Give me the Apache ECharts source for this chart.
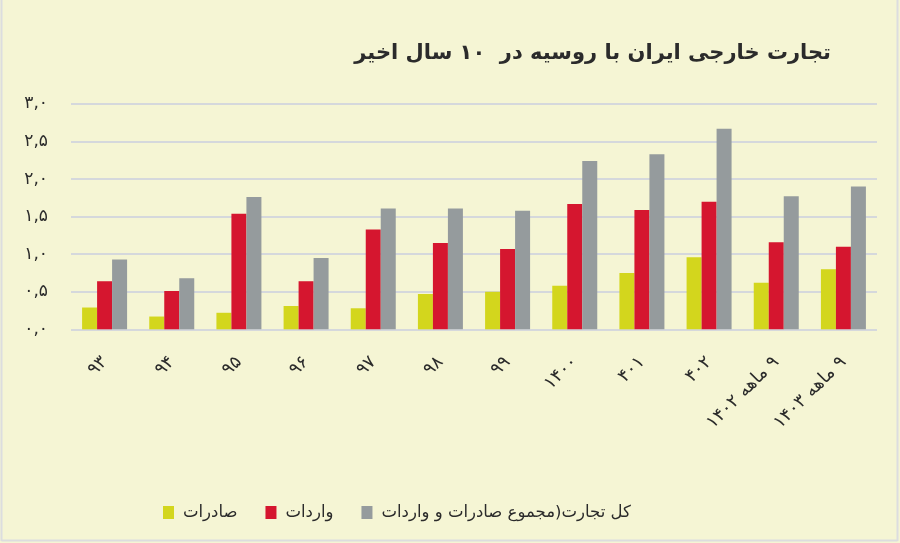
<!DOCTYPE html>
<html>
<head>
<meta charset="utf-8">
<script src="https://cdn.jsdelivr.net/npm/echarts@6/dist/echarts.min.js"></script>
<style>
html,body{margin:0;padding:0;background:#f5f5d4;}
#chart{width:900px;height:543px;}
</style>
</head>
<body>
<div id="chart"></div>
<script>
const titleText = 'تجارت خارجی ایران با روسیه در  ۱۰ سال اخیر';
const categories = ['۹۳','۹۴','۹۵','۹۶','۹۷','۹۸','۹۹','۱۴۰۰','۴۰۱','۴۰۲','۹ ماهه ۱۴۰۲','۹ ماهه ۱۴۰۳'];
const seriesNames = ['صادرات','واردات','کل تجارت(مجموع صادرات و واردات'];
const exportsVals = [0.29,0.17,0.22,0.31,0.28,0.47,0.50,0.58,0.75,0.96,0.62,0.80];
const importsVals = [0.64,0.51,1.54,0.64,1.33,1.15,1.07,1.67,1.59,1.70,1.16,1.10];
const totalVals   = [0.93,0.68,1.76,0.95,1.61,1.61,1.58,2.24,2.33,2.67,1.77,1.90];
const yTickLabels = ['۰,۰','۰,۵','۱,۰','۱,۵','۲,۰','۲,۵','۳,۰'];

const RLE = '\u202B', PDF = '\u202C';
const fa = 'DejaVu Sans, sans-serif';
const chart = echarts.init(document.getElementById('chart'), null, {renderer:'canvas'});
const colors = ['#d3d61d','#d5162f','#959b9d'];
const vals = [exportsVals, importsVals, totalVals];

chart.setOption({
  backgroundColor:'#f5f5d4',
  animation:false,
  color: colors,
  title:{
    text: RLE + titleText + PDF,
    right: 64, top: 38,
    textStyle:{fontFamily:fa, fontSize:21, fontWeight:'bold', color:'#2b2b2b'}
  },
  legend:{
    data: seriesNames,
    left: 158, top: 499,
    itemWidth: 11, itemHeight: 13, itemGap: 28,
    icon: 'rect',
    formatter: n => RLE + n + PDF,
    textStyle:{fontFamily:fa, fontSize:16.5, color:'#2b2b2b', padding:[0,0,0,4]}
  },
  grid:{left:71, right:23, top:104, bottom:213.7, containLabel:false},
  xAxis:{
    type:'category',
    data: categories,
    axisLine:{show:false},
    axisTick:{show:false},
    axisLabel:{
      rotate:45, margin:30, interval:0,
      fontFamily:fa, fontSize:18, color:'#2b2b2b',
      formatter: v => RLE + v + PDF
    }
  },
  yAxis:{
    type:'value', min:0, max:3, interval:0.5,
    axisLine:{show:false}, axisTick:{show:false},
    splitLine:{lineStyle:{color:'#d5d8dc', width:2}},
    axisLabel:{
      margin:23, fontFamily:fa, fontSize:17, color:'#2b2b2b',
      formatter: v => yTickLabels[Math.round(v/0.5)]
    }
  },
  series: seriesNames.map((n,i)=>({
    name:n, type:'bar', data: vals[i], barWidth:15, barGap:'0%',
    itemStyle:{color:colors[i]}
  })),
  graphic:[
    {type:'line', shape:{x1:1.5,y1:0,x2:1.5,y2:541}, style:{stroke:'#dcdddf', lineWidth:2}},
    {type:'line', shape:{x1:897.5,y1:0,x2:897.5,y2:541}, style:{stroke:'#dcdddf', lineWidth:2}},
    {type:'line', shape:{x1:1.5,y1:540.5,x2:897.5,y2:540.5}, style:{stroke:'#dcdddf', lineWidth:2}}
  ]
});
</script>
</body>
</html>
